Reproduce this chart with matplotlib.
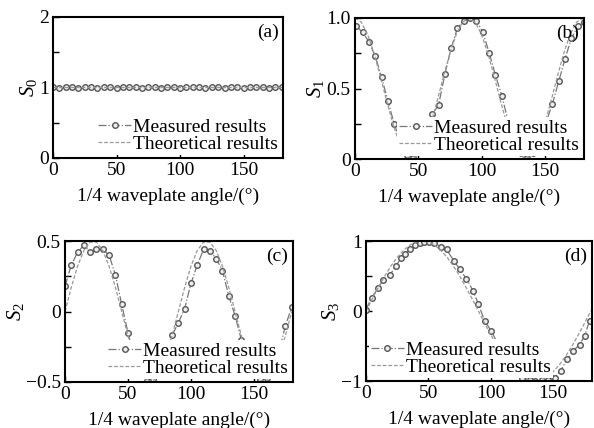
import numpy as np
import matplotlib
matplotlib.use("Agg")
from matplotlib import pyplot as plt
from matplotlib.ticker import MultipleLocator

plt.rcParams['font.family'] = ['Liberation Serif', 'DejaVu Serif']
plt.rcParams['mathtext.fontset'] = 'custom'
plt.rcParams['mathtext.rm'] = 'Liberation Serif'
plt.rcParams['mathtext.it'] = 'Liberation Serif:italic'

# theory grid (deg)
angle = [0, 5, 10, 15, 20, 25, 30, 35, 40, 45, 50, 55, 60, 65, 70, 75, 80, 85, 90,
         95, 100, 105, 110, 115, 120, 125, 130, 135, 140, 145, 150, 155, 160, 165,
         170, 175, 180]

s0_theory = [1.0] * 37
s1_theory = [1.0, 0.97, 0.883, 0.75, 0.587, 0.413, 0.25, 0.117, 0.03, 0.0, 0.03, 0.117,
             0.25, 0.413, 0.587, 0.75, 0.883, 0.97, 1.0, 0.97, 0.883, 0.75, 0.587, 0.413,
             0.25, 0.117, 0.03, 0.0, 0.03, 0.117, 0.25, 0.413, 0.587, 0.75, 0.883, 0.97, 1.0]
s2_theory = [0.0, 0.171, 0.321, 0.433, 0.492, 0.492, 0.433, 0.321, 0.171, 0.0, -0.171,
             -0.321, -0.433, -0.492, -0.492, -0.433, -0.321, -0.171, 0.0, 0.171, 0.321,
             0.433, 0.492, 0.492, 0.433, 0.321, 0.171, 0.0, -0.171, -0.321, -0.433,
             -0.492, -0.492, -0.433, -0.321, -0.171, 0.0]
s3_theory = [0.0, 0.174, 0.342, 0.5, 0.643, 0.766, 0.866, 0.94, 0.985, 1.0, 0.985, 0.94,
             0.866, 0.766, 0.643, 0.5, 0.342, 0.174, 0.0, -0.174, -0.342, -0.5, -0.643,
             -0.766, -0.866, -0.94, -0.985, -1.0, -0.985, -0.94, -0.866, -0.766, -0.643,
             -0.5, -0.342, -0.174, 0.0]

# measured
s0_meas = [1.0, 0.99, 1.0, 1.0, 0.99, 1.0, 1.0, 0.99, 1.0, 1.0, 0.99, 1.0, 1.0, 1.0,
           0.99, 1.0, 1.0, 0.99, 1.0, 1.0, 0.99, 1.0, 1.0, 1.0, 0.99, 1.0, 1.0, 0.99,
           1.0, 1.0, 0.99, 1.0, 1.0, 1.0, 0.99, 1.0, 1.0]

s1_angle = [1, 6, 11, 16, 21, 26, 31, 36, 41, 46, 51, 56, 61, 66, 71, 76, 81, 86, 91,
            96, 101, 106, 111, 116, 121, 126, 131, 136, 141, 146, 151, 156, 161, 166,
            171, 176, 181]
s1_meas = [0.94, 0.90, 0.83, 0.73, 0.58, 0.41, 0.25, 0.12, 0.03, 0.01, 0.05, 0.20,
           0.32, 0.38, 0.60, 0.785, 0.93, 0.98, 1.0, 0.98, 0.90, 0.755, 0.595, 0.45,
           0.27, 0.13, 0.04, 0.01, 0.04, 0.13, 0.26, 0.39, 0.55, 0.71, 0.855, 0.94, 0.97]

s2_meas = [0.18, 0.33, 0.42, 0.47, 0.42, 0.44, 0.44, 0.40, 0.26, 0.05, -0.15, -0.33,
           -0.45, -0.49, -0.48, -0.42, -0.30, -0.17, -0.08, 0.02, 0.20, 0.33, 0.44,
           0.43, 0.375, 0.29, 0.11, -0.03, -0.20, -0.35, -0.45, -0.48, -0.47, -0.40,
           -0.28, -0.10, 0.03]

s3_angle = [0, 4.5, 9.8, 13.8, 19, 23.8, 28.3, 31, 35, 38.9, 42.9, 46.8, 50.8, 54.8,
            60, 64.5, 70.6, 75, 80.4, 85.7, 90, 95, 100.5, 105, 110, 115, 120, 125,
            131.5, 135.5, 141, 146, 151, 156, 161, 166, 171, 175, 179]
s3_meas = [0.02, 0.19, 0.33, 0.45, 0.51, 0.64, 0.76, 0.82, 0.88, 0.94, 0.97, 0.98,
           0.98, 0.97, 0.92, 0.88, 0.71, 0.60, 0.46, 0.29, 0.10, -0.14, -0.29, -0.45,
           -0.62, -0.77, -0.88, -0.95, -0.99, -1.0, -0.99, -0.99, -0.95, -0.85, -0.69,
           -0.57, -0.48, -0.36, -0.14]

W, H = 594, 428
fig = plt.figure(figsize=(W / 100, H / 100), dpi=100)

def box(l, t, r, b):
    return [l / W, 1 - b / H, (r - l) / W, (b - t) / H]

panels = [
    dict(rect=box(53, 17, 283, 158), mx=angle, my=s0_meas, ty=s0_theory,
         ylim=(0, 2), yt=[0, 1, 2], ytl=['0', '1', '2'], minor=0.5,
         name='(a)', ylab='$S_0$', loc='lower right'),
    dict(rect=box(355, 18, 584, 159), mx=s1_angle, my=s1_meas, ty=s1_theory,
         ylim=(0, 1), yt=[0, 0.5, 1], ytl=['0', '0.5', '1.0'], minor=0.25,
         name='(b)', ylab='$S_1$', loc='lower right'),
    dict(rect=box(65, 241, 293, 382), mx=angle, my=s2_meas, ty=s2_theory,
         ylim=(-0.5, 0.5), yt=[-0.5, 0, 0.5], ytl=['\u22120.5', '0', '0.5'], minor=0.25,
         name='(c)', ylab='$S_2$', loc='lower right'),
    dict(rect=box(366, 241, 592, 381), mx=s3_angle, my=s3_meas, ty=s3_theory,
         ylim=(-1, 1), yt=[-1, 0, 1], ytl=['\u22121', '0', '1'], minor=0.5,
         name='(d)', ylab='$S_3$', loc='lower left'),
]

for p in panels:
    ax = fig.add_axes(p['rect'])
    ax.plot(p['mx'], p['my'], linestyle='-.', color='#777777', lw=0.9,
            marker='o', ms=4, mfc='#eeeeee', mec='#555555', mew=1.0,
            label='Measured results')
    ax.plot(angle, p['ty'], linestyle='--', color='#999999', lw=0.9,
            dashes=(3, 1.5), label='Theoretical results')
    ax.set_xlim(0, 181)
    ax.set_ylim(*p['ylim'])
    ax.set_xticks([0, 50, 100, 150])
    ax.set_yticks(p['yt'])
    ax.set_yticklabels(p['ytl'])
    ax.yaxis.set_minor_locator(MultipleLocator(p['minor']))
    ax.tick_params(which='both', direction='in', length=4, width=1,
                   labelsize=14, pad=3)
    for s in ax.spines.values():
        s.set_linewidth(1.5)
    ax.set_xlabel('1/4 waveplate angle/(\u00b0)', fontsize=14, labelpad=6)
    ax.set_ylabel(p['ylab'], fontsize=15, labelpad=0)
    ax.text(0.98, 0.95, p['name'], transform=ax.transAxes, ha='right', va='top',
            fontsize=14)
    leg = ax.legend(loc=p['loc'], fontsize=14, frameon=True, framealpha=1,
                    facecolor='white', edgecolor='none', borderpad=0.1,
                    borderaxespad=0.15, handlelength=1.7, handletextpad=0.1,
                    labelspacing=0.0, fancybox=False)
    leg.set_zorder(5)

fig.savefig('out.png', dpi=100)
